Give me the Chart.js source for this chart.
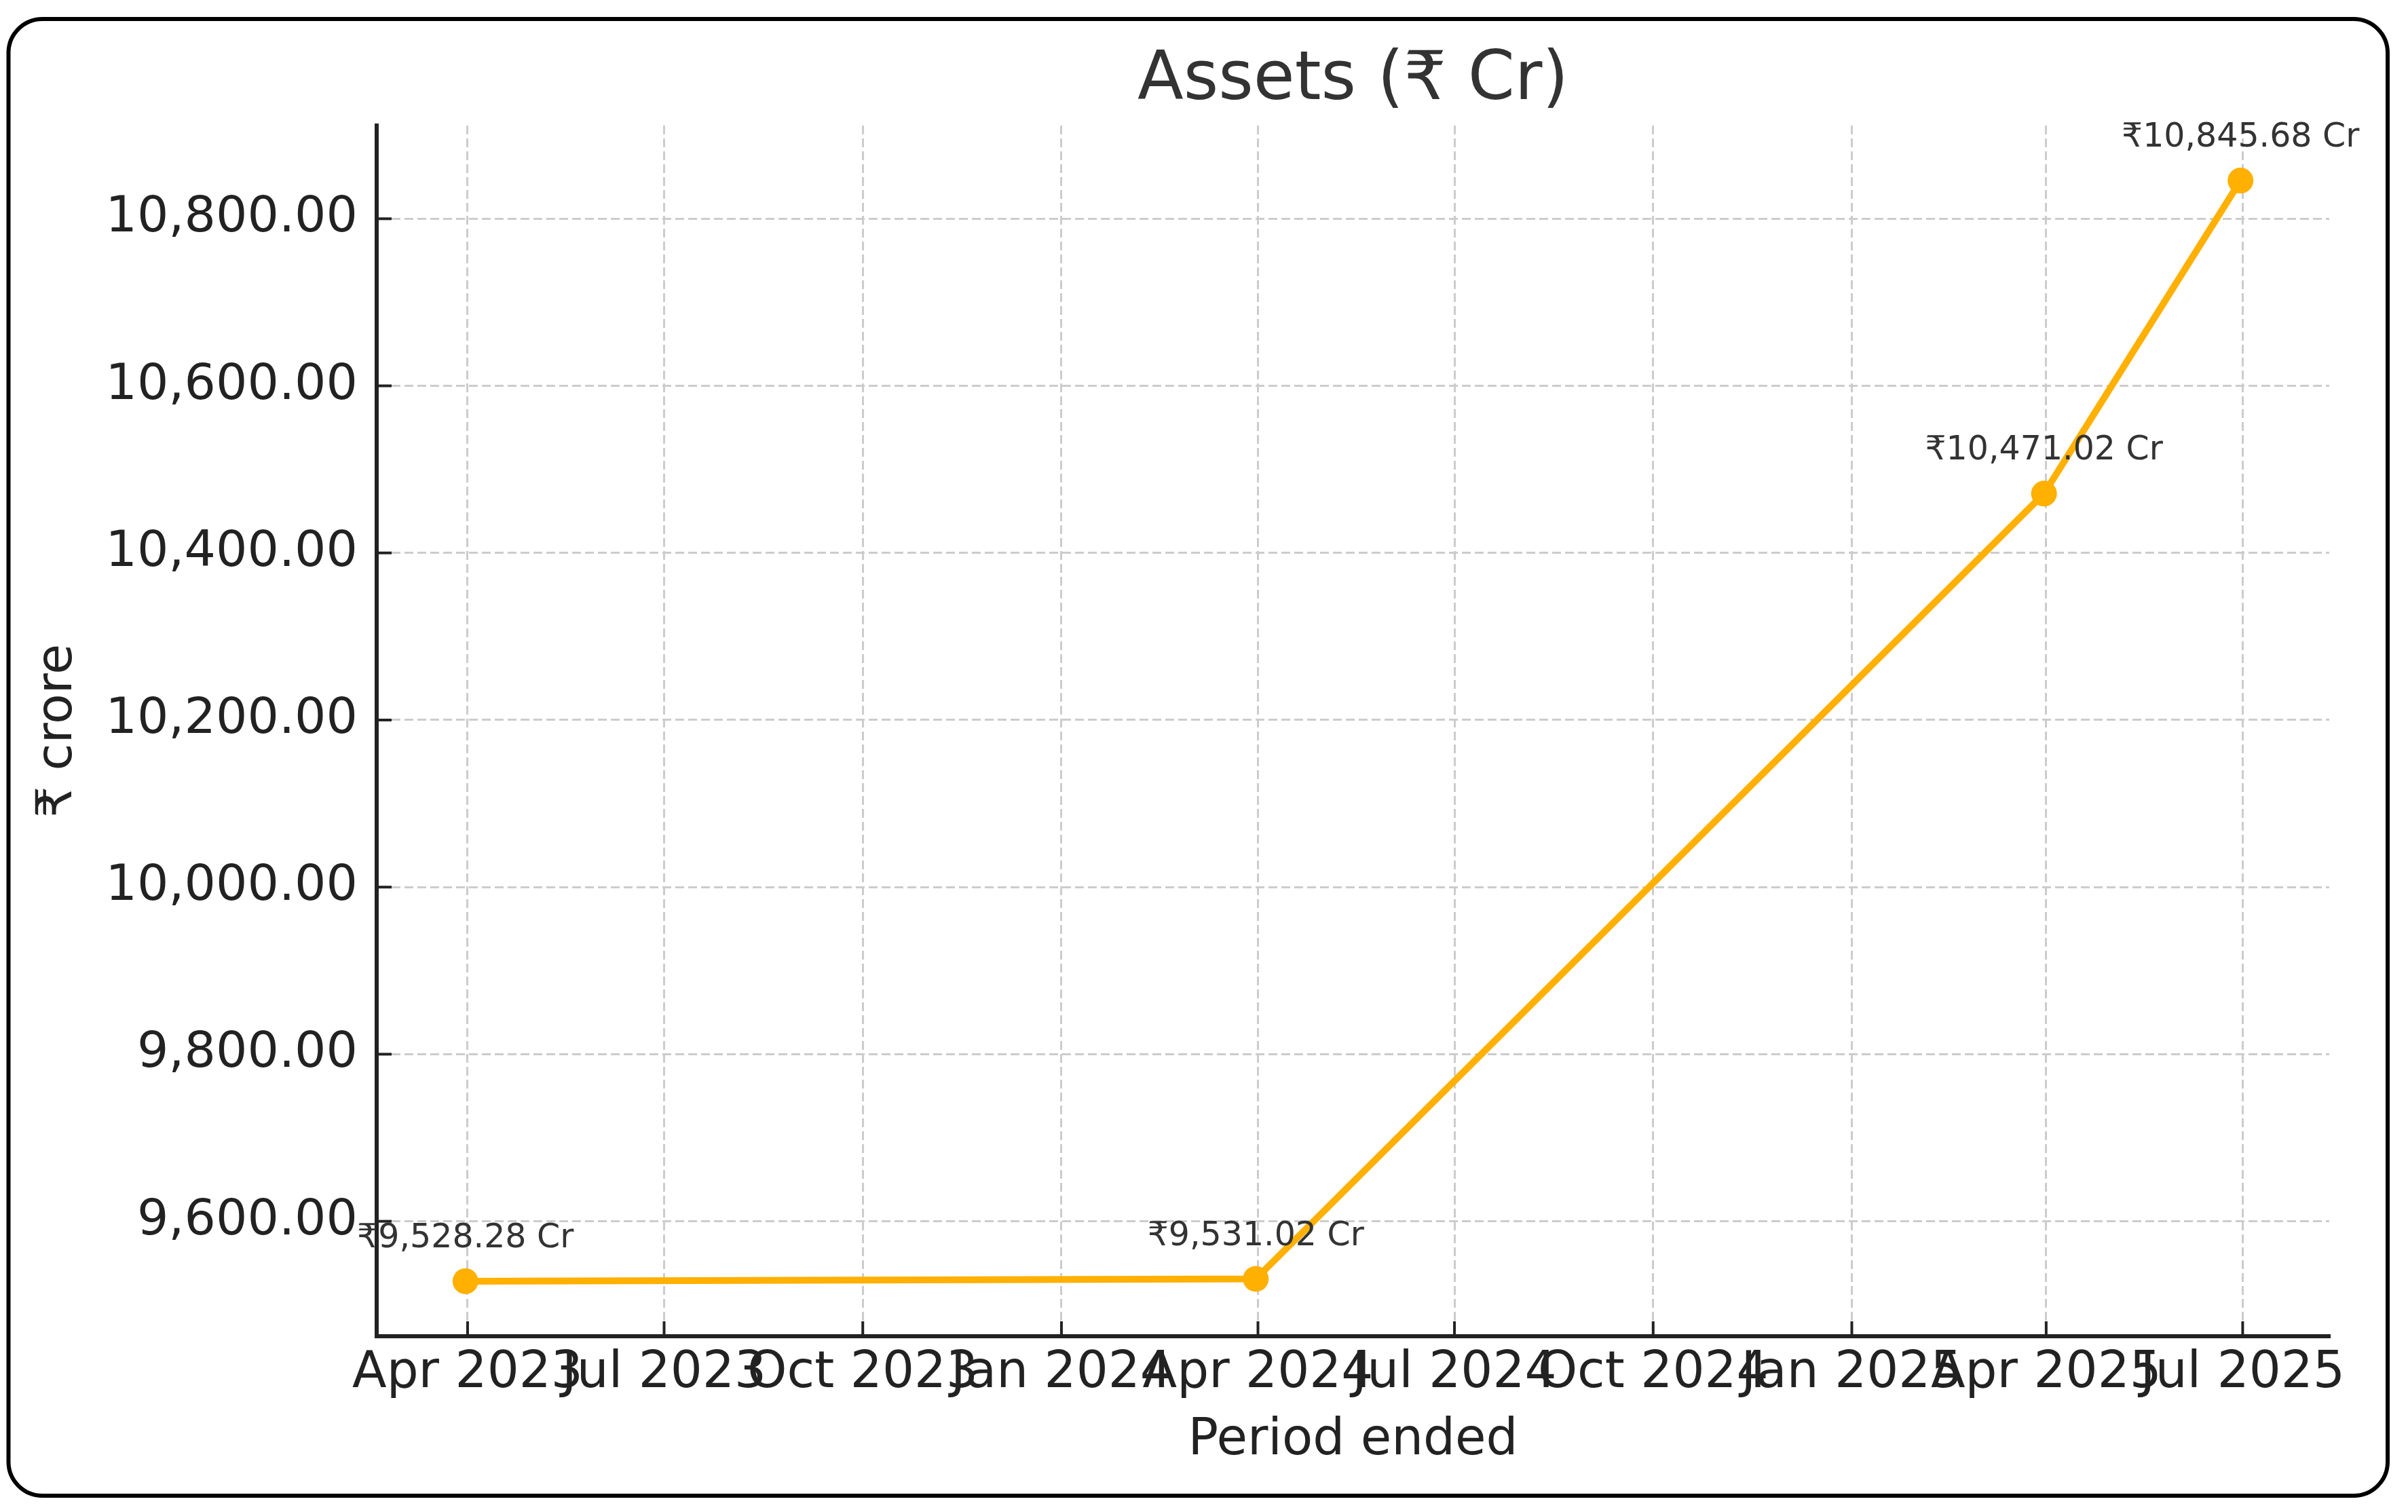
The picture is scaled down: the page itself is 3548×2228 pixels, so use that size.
<!DOCTYPE html>
<html>
<head>
<meta charset="utf-8">
<title>Assets (₹ Cr)</title>
<script src="https://cdn.jsdelivr.net/npm/chart.js@4.4.1/dist/chart.umd.min.js"></script>
<style>
 html,body{margin:0;padding:0;background:#fff;}
 canvas{display:block;}
</style>
</head>
<body>
<canvas id="assetsChart" width="3548" height="2228"></canvas>
<script>
const periodEnds=["2023-03-31","2024-03-31","2025-03-31","2025-06-30"];
const assets=[9528.28,9531.02,10471.02,10845.68];
const yTickValues=[9600,9800,10000,10200,10400,10600,10800];
const xTickDates=["2023-04-01","2023-07-01","2023-10-01","2024-01-01","2024-04-01","2024-07-01","2024-10-01","2025-01-01","2025-04-01","2025-07-01"];
const xTickLabels=["Apr 2023","Jul 2023","Oct 2023","Jan 2024","Apr 2024","Jul 2024","Oct 2024","Jan 2025","Apr 2025","Jul 2025"];

const FONT="'DejaVu Sans', 'Noto Sans', sans-serif";
const LINE="#ffb000";

const toDay=s=>Date.parse(s+"T00:00:00Z")/86400000;

const xs=periodEnds.map(toDay);
const xSpan=xs[xs.length-1]-xs[0];
const ySpan=Math.max(...assets)-Math.min(...assets);

const fmt=v=>v.toLocaleString("en-US",{minimumFractionDigits:2,maximumFractionDigits:2});

// rounded frame, title, inward ticks and point labels
const decor={
 id:"decor",
 beforeDraw(chart){
   const c=chart.ctx;
   c.save();
   c.fillStyle="#fff";
   c.fillRect(0,0,chart.width,chart.height);
   c.restore();
 },
 afterDraw(chart){
   const c=chart.ctx;
   const a=chart.chartArea;
   const xScale=chart.scales.x, yScale=chart.scales.y;

   c.save();
   c.strokeStyle="#222";
   c.lineWidth=4;
   xScale.ticks.forEach(t=>{
     const px=xScale.getPixelForValue(t.value);
     c.beginPath();c.moveTo(px,a.bottom);c.lineTo(px,a.bottom-22);c.stroke();
   });
   yScale.ticks.forEach(t=>{
     const py=yScale.getPixelForValue(t.value);
     c.beginPath();c.moveTo(a.left,py);c.lineTo(a.left+22,py);c.stroke();
   });

   c.fillStyle="#333";
   c.font="99px "+FONT;
   c.textAlign="center";
   c.textBaseline="alphabetic";
   c.fillText("Assets (₹ Cr)",(a.left+a.right)/2,146);

   c.font="49px "+FONT;
   c.fillStyle="#333";
   const meta=chart.getDatasetMeta(0);
   meta.data.forEach((pt,i)=>{
     c.fillText("₹"+fmt(assets[i])+" Cr",pt.x,pt.y-50);
   });

   c.strokeStyle="#000";
   c.lineWidth=6;
   c.beginPath();
   c.roundRect(12.5,28,3505.5,2176,50);
   c.stroke();
   c.restore();
 }
};

new Chart(document.getElementById("assetsChart"),{
 type:"line",
 data:{
   datasets:[{
     data:xs.map((x,i)=>({x:x,y:assets[i]})),
     borderColor:LINE,
     backgroundColor:LINE,
     borderWidth:10,
     pointRadius:19,
     pointBorderWidth:0,
     pointBackgroundColor:LINE,
     tension:0,
     clip:false
   }]
 },
 options:{
   responsive:false,
   animation:false,
   devicePixelRatio:1,
   layout:{padding:{top:185,right:116,left:0,bottom:0}},
   plugins:{legend:{display:false},tooltip:{enabled:false},title:{display:false}},
   scales:{
     x:{
       type:"linear",
       min:xs[0]-0.05*xSpan,
       max:xs[xs.length-1]+0.05*xSpan,
       afterBuildTicks:s=>{s.ticks=xTickDates.map(d=>({value:toDay(d)}));},
       afterFit:s=>{s.height=259;},
       ticks:{
         autoSkip:false,maxRotation:0,minRotation:0,padding:11,
         color:"#222",font:{family:FONT,size:74},
         callback:(v,i)=>xTickLabels[i]
       },
       grid:{color:"#cccccc",lineWidth:3,drawTicks:false},
       border:{color:"#222",width:6,dash:[13,6]},
       title:{display:true,text:"Period ended",color:"#222",font:{family:FONT,size:74},padding:{top:0,bottom:60}}
     },
     y:{
       type:"linear",
       min:Math.min(...assets)-0.05*ySpan,
       max:Math.max(...assets)+0.05*ySpan,
       afterBuildTicks:s=>{s.ticks=yTickValues.map(v=>({value:v}));},
       afterFit:s=>{s.width=555;},
       ticks:{
         padding:28,color:"#222",font:{family:FONT,size:73},
         callback:v=>fmt(v)
       },
       grid:{color:"#cccccc",lineWidth:3,drawTicks:false},
       border:{color:"#222",width:6,dash:[13,6]},
       title:{display:true,text:"₹ crore",color:"#222",font:{family:FONT,size:73},padding:{top:42,bottom:0}}
     }
   }
 },
 plugins:[decor]
});
</script>
</body>
</html>
